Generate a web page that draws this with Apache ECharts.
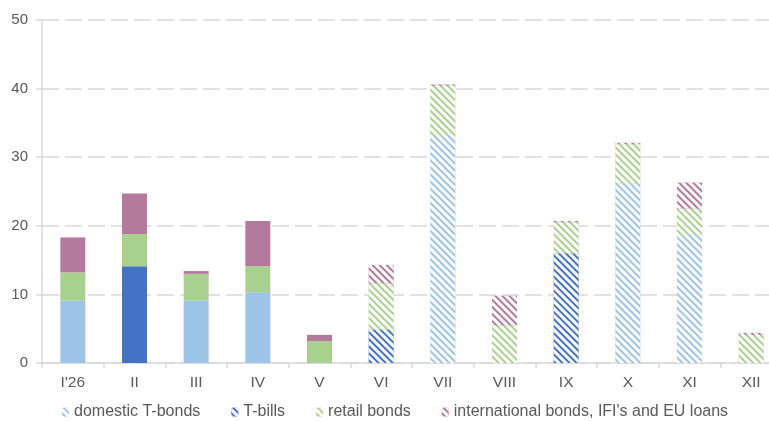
<!DOCTYPE html>
<html>
<head>
<meta charset="utf-8">
<script src="https://cdn.jsdelivr.net/npm/echarts@6/dist/echarts.min.js"></script>
<style>
  html, body { margin: 0; padding: 0; background: #fff; overflow: hidden; }
  /* plot area runs slightly past the right edge of the window */
  #chart { width: 782px; height: 421px; }
</style>
</head>
<body>
<div id="chart"></div>
<script>
// Monthly borrowing plan, stacked by instrument
const months = ["I'26", "II", "III", "IV", "V", "VI", "VII", "VIII", "IX", "X", "XI", "XII"];
const domesticTBonds = [9.1, 0, 9.1, 10.3, 0, 0, 33.1, 0, 0, 26.2, 18.7, 0];
const tBills         = [0, 14.1, 0, 0, 0, 4.9, 0, 0, 16.0, 0, 0, 0];
const retailBonds    = [4.1, 4.7, 3.9, 3.8, 3.2, 6.7, 7.3, 5.5, 4.5, 5.7, 3.8, 4.1];
const intlBonds      = [5.1, 5.9, 0.4, 6.6, 0.9, 2.7, 0.2, 4.3, 0.2, 0.2, 3.8, 0.3];
// months drawn with diagonal hatching (planned)
const planned = [false, false, false, false, false, true, true, true, true, true, true, true];

const seriesDefs = [
  { name: 'domestic T-bonds', data: domesticTBonds, color: '#9DC3E6' },
  { name: 'T-bills', data: tBills, color: '#4472C4' },
  { name: 'retail bonds', data: retailBonds, color: '#A9D18E' },
  { name: "international bonds, IFI's and EU loans", data: intlBonds, color: '#B47A9C' }
];

const hatch = {
  symbol: 'rect',
  symbolSize: 1,
  dashArrayX: [1, 0],
  dashArrayY: [2.5, 1.5],
  rotation: Math.PI / 4,
  color: '#ffffff'
};
const noHatch = Object.assign({}, hatch, { color: 'rgba(255,255,255,0)' });

const chart = echarts.init(document.getElementById('chart'), null, { renderer: 'canvas' });
chart.setOption({
  animation: false,
  aria: { enabled: false },
  textStyle: { fontFamily: 'Liberation Sans', color: '#595959' },
  grid: { left: 42, top: 20, bottom: 58, right: 0 },
  legend: {
    left: 57,
    top: 399,
    itemWidth: 7,
    itemHeight: 9,
    itemGap: 31,
    textStyle: { fontSize: 16, color: '#595959', fontFamily: 'Liberation Sans' },
    data: seriesDefs.map(s => s.name)
  },
  xAxis: {
    type: 'category',
    data: months,
    axisLine: { lineStyle: { color: '#D9D9D9', width: 1.5 } },
    axisTick: { show: true, length: 5, lineStyle: { color: '#D9D9D9', width: 1.5 } },
    axisLabel: { fontSize: 15.5, color: '#595959', margin: 12 }
  },
  yAxis: {
    type: 'value',
    min: 0,
    max: 50,
    interval: 10,
    axisLine: { show: true, lineStyle: { color: '#D9D9D9', width: 1.5 } },
    axisTick: { show: true, length: 6, lineStyle: { color: '#D9D9D9', width: 1.5 } },
    axisLabel: { fontSize: 15, color: '#595959', margin: 14 },
    splitLine: { lineStyle: { color: '#D9D9D9', width: 1.5, type: [17, 6] } }
  },
  series: seriesDefs.map(s => ({
    name: s.name,
    type: 'bar',
    stack: 'total',
    barWidth: 25,
    itemStyle: { color: s.color, decal: hatch },
    data: s.data.map((v, i) => ({
      value: v,
      itemStyle: { color: s.color, decal: planned[i] ? hatch : noHatch }
    }))
  }))
});
</script>
</body>
</html>
